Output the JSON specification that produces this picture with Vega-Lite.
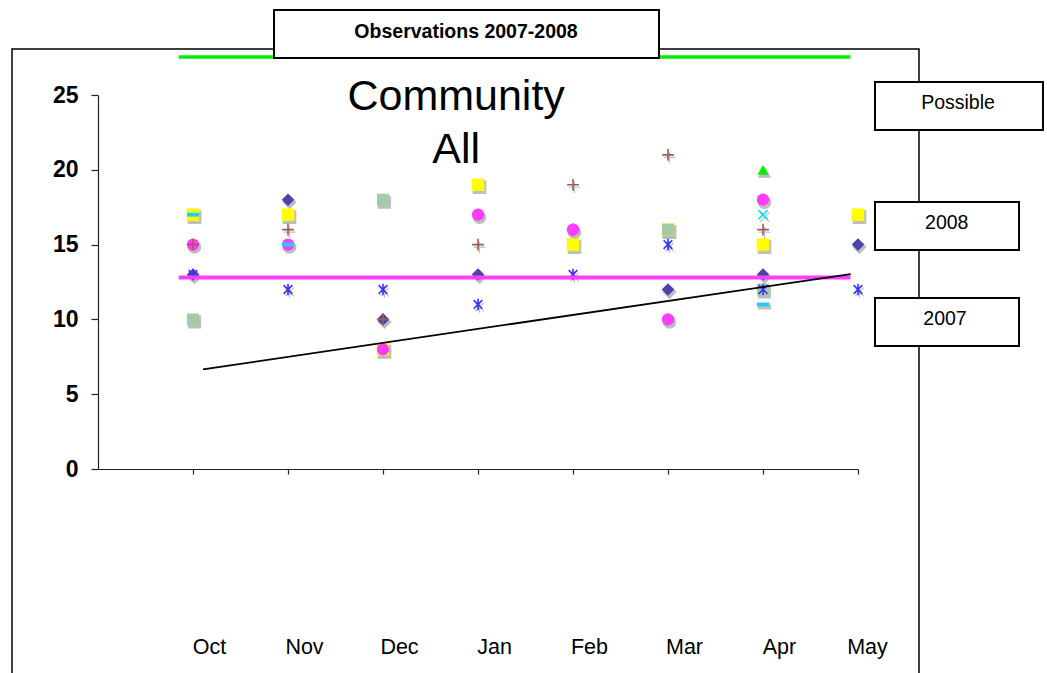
{
  "$schema": "https://vega.github.io/schema/vega-lite/v6.json",
  "autosize": {"type": "none"},
  "width": 760,
  "height": 374,
  "padding": {"left": 98, "top": 95, "right": 189, "bottom": 204},
  "background": "white",
  "config": {"view": {"stroke": null}, "font": "Liberation Sans", "text": {"font": "Liberation Sans"}},
  "data": {"values": [{}]},
  "datasets": {
    "obs": [
      {"series": "s1", "month": "Oct", "idx": 1, "value": 13},
      {"series": "s1", "month": "Nov", "idx": 2, "value": 18},
      {"series": "s1", "month": "Dec", "idx": 3, "value": 10},
      {"series": "s1", "month": "Jan", "idx": 4, "value": 13},
      {"series": "s1", "month": "Feb", "idx": 5, "value": 16},
      {"series": "s1", "month": "Mar", "idx": 6, "value": 12},
      {"series": "s1", "month": "Apr", "idx": 7, "value": 13},
      {"series": "s1", "month": "May", "idx": 8, "value": 15},
      {"series": "s2", "month": "Oct", "idx": 1, "value": 17},
      {"series": "s2", "month": "Nov", "idx": 2, "value": 17},
      {"series": "s2", "month": "Dec", "idx": 3, "value": 8},
      {"series": "s2", "month": "Jan", "idx": 4, "value": 19},
      {"series": "s2", "month": "Feb", "idx": 5, "value": 15},
      {"series": "s2", "month": "Mar", "idx": 6, "value": 16},
      {"series": "s2", "month": "Apr", "idx": 7, "value": 15},
      {"series": "s2", "month": "May", "idx": 8, "value": 17},
      {"series": "s3", "month": "Oct", "idx": 1, "value": 15},
      {"series": "s3", "month": "Nov", "idx": 2, "value": 15},
      {"series": "s3", "month": "Dec", "idx": 3, "value": 8},
      {"series": "s3", "month": "Jan", "idx": 4, "value": 17},
      {"series": "s3", "month": "Feb", "idx": 5, "value": 16},
      {"series": "s3", "month": "Mar", "idx": 6, "value": 10},
      {"series": "s3", "month": "Apr", "idx": 7, "value": 18},
      {"series": "s4", "month": "Oct", "idx": 1, "value": 17},
      {"series": "s4", "month": "Nov", "idx": 2, "value": 15},
      {"series": "s4", "month": "Apr", "idx": 7, "value": 11},
      {"series": "s5", "month": "Oct", "idx": 1, "value": 10},
      {"series": "s5", "month": "Dec", "idx": 3, "value": 18},
      {"series": "s5", "month": "Mar", "idx": 6, "value": 16},
      {"series": "s5", "month": "Apr", "idx": 7, "value": 12},
      {"series": "s6", "month": "Oct", "idx": 1, "value": 15},
      {"series": "s6", "month": "Nov", "idx": 2, "value": 16},
      {"series": "s6", "month": "Dec", "idx": 3, "value": 10},
      {"series": "s6", "month": "Jan", "idx": 4, "value": 15},
      {"series": "s6", "month": "Feb", "idx": 5, "value": 19},
      {"series": "s6", "month": "Mar", "idx": 6, "value": 21},
      {"series": "s6", "month": "Apr", "idx": 7, "value": 16},
      {"series": "s7", "month": "Oct", "idx": 1, "value": 13},
      {"series": "s7", "month": "Nov", "idx": 2, "value": 12},
      {"series": "s7", "month": "Dec", "idx": 3, "value": 12},
      {"series": "s7", "month": "Jan", "idx": 4, "value": 11},
      {"series": "s7", "month": "Feb", "idx": 5, "value": 13},
      {"series": "s7", "month": "Mar", "idx": 6, "value": 15},
      {"series": "s7", "month": "Apr", "idx": 7, "value": 12},
      {"series": "s7", "month": "May", "idx": 8, "value": 12},
      {"series": "s8", "month": "Apr", "idx": 7, "value": 17},
      {"series": "s9", "month": "Apr", "idx": 7, "value": 20}
    ],
    "refs": [
      {"line": "possible", "x": 0.85, "y": 27.54},
      {"line": "possible", "x": 7.92, "y": 27.54},
      {"line": "mean", "x": 0.85, "y": 12.8},
      {"line": "mean", "x": 7.92, "y": 12.8},
      {"line": "trend", "x": 1.105, "y": 6.66},
      {"line": "trend", "x": 7.923, "y": 13.03}
    ]
  },
  "layer": [
    {
      "data": {"name": "obs"},
      "mark": {"type": "point", "filled": true, "fill": "#b9b9b9", "stroke": "#b9b9b9", "strokeWidth": 1.2, "opacity": 0.9, "xOffset": 1.5, "yOffset": 2.5},
      "encoding": {
        "x": {"field": "idx", "type": "quantitative",
          "scale": {"domain": [0, 8], "nice": false, "zero": false},
          "axis": {"values": [1, 2, 3, 4, 5, 6, 7, 8], "title": null, "grid": false,
            "domainColor": "#222", "domainWidth": 1.2, "tickColor": "#222", "tickSize": 5, "tickWidth": 1.2,
            "labelPadding": 162,
            "labelOffset": {"condition": {"test": "datum.value == 8", "value": 9}, "value": 16},
            "labelFont": "Liberation Sans", "labelFontSize": 21.5, "labelColor": "black",
            "labelFlush": false, "labelOverlap": false,
            "labelExpr": "['','Oct','Nov','Dec','Jan','Feb','Mar','Apr','May'][datum.value]"}},
        "y": {"field": "value", "type": "quantitative",
          "scale": {"domain": [0, 25], "nice": false},
          "axis": {"values": [0, 5, 10, 15, 20, 25], "title": null, "grid": false,
            "domainColor": "#222", "domainWidth": 1.2, "tickColor": "#222", "tickSize": 7, "tickWidth": 1.2,
            "labelPadding": 13, "labelFont": "Liberation Sans", "labelFontSize": 23, "labelFontWeight": "bold", "labelColor": "black",
            "labelFlush": false, "labelOverlap": false}},
        "shape": {"field": "series", "type": "nominal", "legend": null,
          "scale": {"domain": ["s1", "s2", "s3", "s4", "s5", "s6", "s7", "s8", "s9"],
            "range": ["diamond", "square", "circle", "M-1,-0.32L1,-0.32L1,0.32L-1,0.32Z", "square", "M-1,0L1,0M0,-1L0,1", "M-0.75,-0.75L0.75,0.75M-0.75,0.75L0.75,-0.75M0,-1L0,1", "M-0.8,-0.8L0.8,0.8M-0.8,0.8L0.8,-0.8", "triangle-up"]}},
        "size": {"field": "series", "type": "ordinal", "legend": null,
          "scale": {"domain": ["s1", "s2", "s3", "s4", "s5", "s6", "s7", "s8", "s9"],
            "range": [160, 125, 110, 130, 55, 110, 120, 115, 120]}}
      }
    },
    {
      "data": {"name": "obs"},
      "mark": {"type": "point", "filled": false, "strokeWidth": 1.6, "opacity": 1},
      "encoding": {
        "x": {"field": "idx", "type": "quantitative", "scale": {"domain": [0, 8], "nice": false, "zero": false}},
        "y": {"field": "value", "type": "quantitative", "scale": {"domain": [0, 25], "nice": false}},
        "shape": {"field": "series", "type": "nominal", "legend": null,
          "scale": {"domain": ["s1", "s2", "s3", "s4", "s5", "s6", "s7", "s8", "s9"],
            "range": ["diamond", "square", "circle", "M-1,-0.32L1,-0.32L1,0.32L-1,0.32Z", "square", "M-1,0L1,0M0,-1L0,1", "M-0.75,-0.75L0.75,0.75M-0.75,0.75L0.75,-0.75M0,-1L0,1", "M-0.8,-0.8L0.8,0.8M-0.8,0.8L0.8,-0.8", "triangle-up"]}},
        "size": {"field": "series", "type": "ordinal", "legend": null,
          "scale": {"domain": ["s1", "s2", "s3", "s4", "s5", "s6", "s7", "s8", "s9"],
            "range": [160, 125, 110, 130, 55, 110, 120, 115, 120]}},
        "fill": {"field": "series", "type": "nominal", "legend": null,
          "scale": {"domain": ["s1", "s2", "s3", "s4", "s5", "s6", "s7", "s8", "s9"],
            "range": ["#4a45a8", "#ffff00", "#ff3cff", "#22ccf2", "#a6c9a6", "transparent", "transparent", "transparent", "#00ee00"]}},
        "stroke": {"field": "series", "type": "nominal", "legend": null,
          "scale": {"domain": ["s1", "s2", "s3", "s4", "s5", "s6", "s7", "s8", "s9"],
            "range": ["transparent", "transparent", "transparent", "transparent", "transparent", "#a05a5a", "#3333ff", "#00e5ff", "transparent"]}}
      }
    },
    {
      "data": {"name": "refs"},
      "transform": [{"filter": "datum.line === 'mean'"}],
      "mark": {"type": "line", "color": "#ff3cff", "strokeWidth": 4},
      "encoding": {
        "x": {"field": "x", "type": "quantitative", "scale": {"domain": [0, 8], "nice": false, "zero": false}},
        "y": {"field": "y", "type": "quantitative", "scale": {"domain": [0, 25], "nice": false}}
      }
    },
    {
      "data": {"name": "refs"},
      "transform": [{"filter": "datum.line === 'trend'"}],
      "mark": {"type": "line", "color": "black", "strokeWidth": 1.8},
      "encoding": {
        "x": {"field": "x", "type": "quantitative", "scale": {"domain": [0, 8], "nice": false, "zero": false}},
        "y": {"field": "y", "type": "quantitative", "scale": {"domain": [0, 25], "nice": false}}
      }
    },
    {
      "data": {"name": "refs"},
      "transform": [{"filter": "datum.line === 'possible'"}],
      "mark": {"type": "line", "color": "#00ee00", "strokeWidth": 3.5},
      "encoding": {
        "x": {"field": "x", "type": "quantitative", "scale": {"domain": [0, 8], "nice": false, "zero": false}},
        "y": {"field": "y", "type": "quantitative", "scale": {"domain": [0, 25], "nice": false}}
      }
    },
    {
      "mark": {"type": "rect", "filled": false, "stroke": "black", "strokeWidth": 1.5},
      "encoding": {
        "x": {"datum": -0.905, "type": "quantitative", "scale": {"domain": [0, 8], "nice": false, "zero": false}},
        "x2": {"datum": 8.642},
        "y": {"datum": 28.07, "type": "quantitative", "scale": {"domain": [0, 25], "nice": false}},
        "y2": {"datum": -14}
      }
    },
    {
      "mark": {"type": "rect", "fill": "white", "stroke": "black", "strokeWidth": 2},
      "encoding": {
        "x": {"datum": 1.853, "type": "quantitative", "scale": {"domain": [0, 8], "nice": false, "zero": false}},
        "x2": {"datum": 5.905},
        "y": {"datum": 30.68, "type": "quantitative", "scale": {"domain": [0, 25], "nice": false}},
        "y2": {"datum": 27.47}
      }
    },
    {
      "mark": {"type": "text", "text": "Observations 2007-2008", "font": "Liberation Sans", "fontSize": 19.5, "fontWeight": "bold", "align": "center", "baseline": "middle", "color": "black"},
      "encoding": {
        "x": {"datum": 3.874, "type": "quantitative", "scale": {"domain": [0, 8], "nice": false, "zero": false}},
        "y": {"datum": 29.21, "type": "quantitative", "scale": {"domain": [0, 25], "nice": false}}
      }
    },
    {
      "mark": {"type": "text", "text": ["Community", "All"], "font": "Liberation Sans", "fontSize": 43, "lineHeight": 53, "align": "center", "baseline": "alphabetic", "color": "black"},
      "encoding": {
        "x": {"datum": 3.77, "type": "quantitative", "scale": {"domain": [0, 8], "nice": false, "zero": false}},
        "y": {"datum": 24.0, "type": "quantitative", "scale": {"domain": [0, 25], "nice": false}}
      }
    },
    {
      "mark": {"type": "rect", "fill": "white", "stroke": "black", "strokeWidth": 2},
      "encoding": {
        "x": {"datum": 8.179, "type": "quantitative", "scale": {"domain": [0, 8], "nice": false, "zero": false}},
        "x2": {"datum": 9.947},
        "y": {"datum": 25.87, "type": "quantitative", "scale": {"domain": [0, 25], "nice": false}},
        "y2": {"datum": 22.66}
      }
    },
    {
      "mark": {"type": "text", "text": "Possible", "font": "Liberation Sans", "fontSize": 19.5, "align": "center", "baseline": "middle", "color": "black"},
      "encoding": {
        "x": {"datum": 9.053, "type": "quantitative", "scale": {"domain": [0, 8], "nice": false, "zero": false}},
        "y": {"datum": 24.47, "type": "quantitative", "scale": {"domain": [0, 25], "nice": false}}
      }
    },
    {
      "mark": {"type": "rect", "fill": "white", "stroke": "black", "strokeWidth": 2},
      "encoding": {
        "x": {"datum": 8.179, "type": "quantitative", "scale": {"domain": [0, 8], "nice": false, "zero": false}},
        "x2": {"datum": 9.695},
        "y": {"datum": 17.85, "type": "quantitative", "scale": {"domain": [0, 25], "nice": false}},
        "y2": {"datum": 14.64}
      }
    },
    {
      "mark": {"type": "text", "text": "2008", "font": "Liberation Sans", "fontSize": 19.5, "align": "center", "baseline": "middle", "color": "black"},
      "encoding": {
        "x": {"datum": 8.934, "type": "quantitative", "scale": {"domain": [0, 8], "nice": false, "zero": false}},
        "y": {"datum": 16.44, "type": "quantitative", "scale": {"domain": [0, 25], "nice": false}}
      }
    },
    {
      "mark": {"type": "rect", "fill": "white", "stroke": "black", "strokeWidth": 2},
      "encoding": {
        "x": {"datum": 8.179, "type": "quantitative", "scale": {"domain": [0, 8], "nice": false, "zero": false}},
        "x2": {"datum": 9.695},
        "y": {"datum": 11.43, "type": "quantitative", "scale": {"domain": [0, 25], "nice": false}},
        "y2": {"datum": 8.22}
      }
    },
    {
      "mark": {"type": "text", "text": "2007", "font": "Liberation Sans", "fontSize": 19.5, "align": "center", "baseline": "middle", "color": "black"},
      "encoding": {
        "x": {"datum": 8.916, "type": "quantitative", "scale": {"domain": [0, 8], "nice": false, "zero": false}},
        "y": {"datum": 10.03, "type": "quantitative", "scale": {"domain": [0, 25], "nice": false}}
      }
    }
  ]
}
